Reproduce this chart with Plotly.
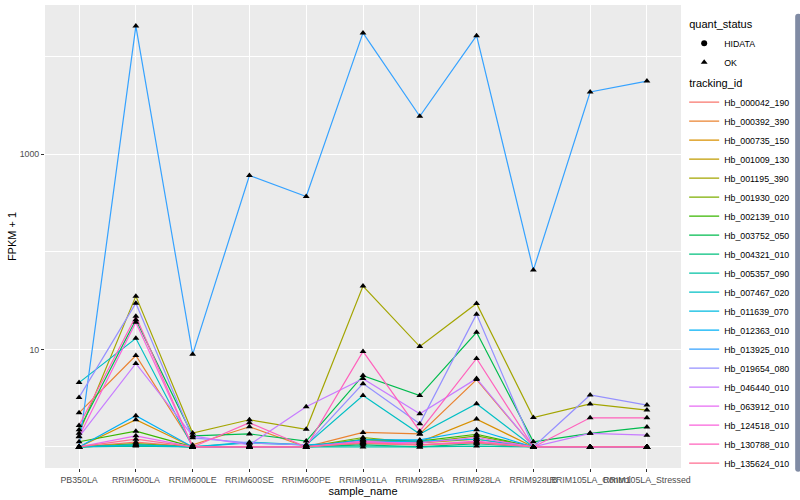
import numpy as np
import plotly.graph_objects as go

categories = ["PB350LA", "RRIM600LA", "RRIM600LE", "RRIM600SE", "RRIM600PE",
              "RRIM901LA", "RRIM928BA", "RRIM928LA", "RRIM928LB",
              "RRIM105LA_Control", "RRIM105LA_Stressed"]

tracking_ids = ["Hb_000042_190", "Hb_000392_390", "Hb_000735_150", "Hb_001009_130",
                "Hb_001195_390", "Hb_001930_020", "Hb_002139_010", "Hb_003752_050",
                "Hb_004321_010", "Hb_005357_090", "Hb_007467_020", "Hb_011639_070",
                "Hb_012363_010", "Hb_013925_010", "Hb_019654_080", "Hb_046440_010",
                "Hb_063912_010", "Hb_124518_010", "Hb_130788_010", "Hb_135624_010"]

# FPKM + 1 values, one list per tracking_id, in category order
Hb_000042_190 = [1.00, 1.12, 1.00, 1.00, 1.00, 1.08, 1.05, 1.12, 1.00, 1.00, 1.00]
Hb_000392_390 = [2.24, 8.66, 1.05, 1.61, 1.00, 1.41, 1.36, 4.91, 1.00, 1.00, 1.00]
Hb_000735_150 = [1.00, 1.90, 1.00, 1.00, 1.00, 1.18, 1.12, 1.93, 1.00, 1.00, 1.00]
Hb_001009_130 = [1.00, 1.05, 1.00, 1.00, 1.00, 1.10, 1.10, 1.20, 1.00, 1.00, 1.00]
Hb_001195_390 = [1.38, 35.2, 1.39, 1.90, 1.52, 44.6, 10.7, 29.6, 2.00, 2.76, 2.39]
Hb_001930_020 = [1.00, 1.08, 1.00, 1.00, 1.00, 1.25, 1.10, 1.30, 1.00, 1.00, 1.00]
Hb_002139_010 = [1.13, 1.45, 1.00, 1.00, 1.00, 1.20, 1.15, 1.35, 1.00, 1.00, 1.00]
Hb_003752_050 = [1.50, 20.2, 1.30, 1.36, 1.15, 5.39, 3.36, 15.0, 1.13, 1.38, 1.60]
Hb_004321_010 = [1.00, 1.05, 1.00, 1.00, 1.00, 1.05, 1.00, 1.08, 1.00, 1.00, 1.00]
Hb_005357_090 = [1.00, 1.02, 1.00, 1.00, 1.00, 1.00, 1.00, 1.02, 1.00, 1.00, 1.00]
Hb_007467_020 = [4.57, 13.0, 1.00, 1.12, 1.05, 3.36, 1.36, 2.77, 1.00, 1.00, 1.00]
Hb_011639_070 = [1.00, 1.05, 1.00, 1.10, 1.05, 1.12, 1.15, 1.20, 1.00, 1.00, 1.00]
Hb_012363_010 = [1.00, 2.09, 1.00, 1.00, 1.00, 1.18, 1.18, 1.50, 1.00, 1.00, 1.00]
Hb_013925_010 = [1.00, 20700, 8.9, 607, 370, 17600, 2460, 16500, 65.1, 4360, 5640]
Hb_019654_080 = [3.22, 29.8, 1.24, 1.10, 1.05, 4.46, 1.73, 23.0, 1.00, 3.41, 2.69]
Hb_046440_010 = [1.27, 7.18, 1.30, 1.05, 2.58, 5.02, 2.19, 5.02, 1.00, 1.38, 1.32]
Hb_063912_010 = [1.00, 1.30, 1.00, 1.00, 1.00, 1.12, 1.10, 1.25, 1.00, 1.00, 1.00]
Hb_124518_010 = [1.28, 19.0, 1.00, 1.00, 1.00, 1.15, 1.05, 1.15, 1.00, 1.00, 1.00]
Hb_130788_010 = [1.66, 21.9, 1.00, 1.77, 1.00, 9.53, 1.45, 8.08, 1.00, 1.99, 1.99]
Hb_135624_010 = [1.00, 1.20, 1.00, 1.00, 1.00, 1.10, 1.05, 1.10, 1.00, 1.00, 1.00]

series = [Hb_000042_190, Hb_000392_390, Hb_000735_150, Hb_001009_130, Hb_001195_390,
          Hb_001930_020, Hb_002139_010, Hb_003752_050, Hb_004321_010, Hb_005357_090,
          Hb_007467_020, Hb_011639_070, Hb_012363_010, Hb_013925_010, Hb_019654_080,
          Hb_046440_010, Hb_063912_010, Hb_124518_010, Hb_130788_010, Hb_135624_010]

quant_status = ["OK"] * len(tracking_ids)
status_levels = ["HIDATA", "OK"]

y_ticks = [10, 1000]
y_minor = [1, 100, 10000]

colors = ["#F8766D", "#EA8331", "#D89000", "#C09B00", "#A3A500", "#7CAE00", "#39B600",
          "#00BB4E", "#00BF7D", "#00C1A3", "#00BFC4", "#00BAE0", "#00B0F6", "#35A2FF",
          "#9590FF", "#C77CFF", "#E76BF3", "#FA62DB", "#FF62BC", "#FF6C90"]
symbols = {"HIDATA": "circle", "OK": "triangle-up"}

FONT = "Liberation Sans, Arial, sans-serif"
fig = go.Figure()

for i, (name, vals, col) in enumerate(zip(tracking_ids, series, colors)):
    fig.add_trace(go.Scatter(
        x=categories, y=vals, mode="lines", name=name,
        line=dict(color=col, width=1.2),
        legendgroup="tracking", legendrank=100 + i,
        legendgrouptitle_text="tracking_id" if i == 0 else None,
        hoverinfo="skip"))

for j, lvl in enumerate(status_levels):
    xs, ys = [], []
    for vals, st in zip(series, quant_status):
        if st == lvl:
            xs += categories
            ys += vals
    if not xs:
        xs, ys = [None], [None]
    fig.add_trace(go.Scatter(
        x=xs, y=ys, mode="markers", name=lvl,
        marker=dict(symbol=symbols[lvl], color="black", size=6, line=dict(width=0)),
        legendgroup="status", legendrank=1 + j,
        legendgrouptitle_text="quant_status" if j == 0 else None,
        hoverinfo="skip"))

all_logs = np.log10(np.concatenate([np.array(s, dtype=float) for s in series]))
lo, hi = all_logs.min(), all_logs.max()
pad = 0.05 * (hi - lo)

fig.update_layout(
    width=800, height=500,
    margin=dict(l=45, r=117, t=5, b=32),
    paper_bgcolor="white", plot_bgcolor="#EBEBEB",
    font=dict(family=FONT, size=9, color="black"),
    showlegend=True,
    legend=dict(
        x=1.005, xanchor="left", y=0.99, yanchor="top",
        traceorder="grouped", tracegroupgap=2,
        font=dict(family=FONT, size=8.8, color="black"),
        grouptitlefont=dict(family=FONT, size=11, color="black"),
        itemwidth=30, bgcolor="rgba(0,0,0,0)"),
)

fig.update_xaxes(
    type="category", categoryorder="array", categoryarray=categories,
    range=[-0.6, len(categories) - 0.4],
    showgrid=True, gridcolor="white", gridwidth=1.1,
    showline=False, zeroline=False,
    ticks="outside", ticklen=3, tickcolor="#333333", tickwidth=1,
    tickangle=0,
    tickfont=dict(family=FONT, size=8.8, color="#4D4D4D"),
    title=dict(text="sample_name", font=dict(family=FONT, size=11, color="black"), standoff=2),
    automargin=False,
)

fig.update_yaxes(
    type="log", range=[lo - pad, hi + pad],
    tickmode="array", tickvals=y_ticks, ticktext=[str(v) for v in y_ticks],
    showgrid=True, gridcolor="white", gridwidth=1.1,
    minor=dict(tickmode="array", tickvals=y_minor, showgrid=True,
               gridcolor="white", gridwidth=0.5, ticks=""),
    showline=False, zeroline=False,
    ticks="outside", ticklen=3, tickcolor="#333333", tickwidth=1,
    tickfont=dict(family=FONT, size=8.8, color="#4D4D4D"),
    title=dict(text="FPKM + 1", font=dict(family=FONT, size=11, color="black"), standoff=0),
    automargin=False,
)

fig.write_html("out.html",
               config={"displayModeBar": False},
               post_script="document.body.style.margin='0';document.body.style.padding='0';")
